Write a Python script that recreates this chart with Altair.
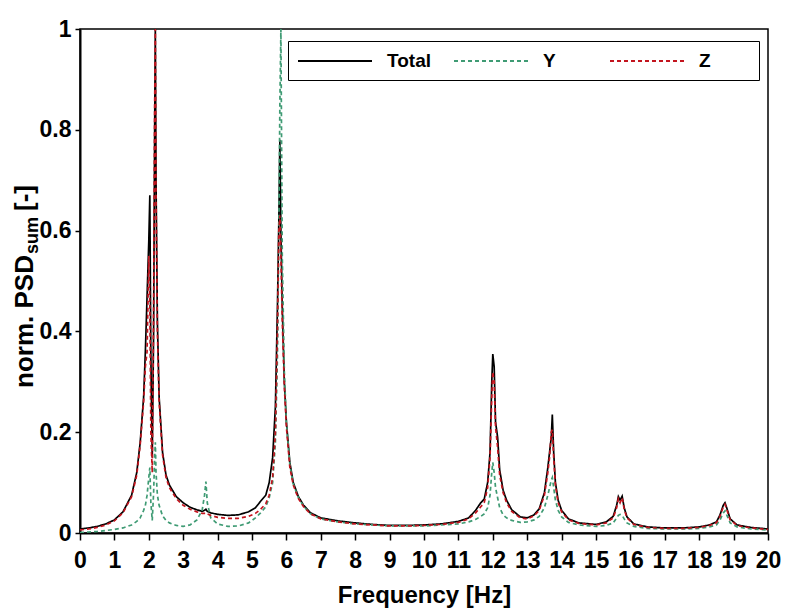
import altair as alt
import pandas as pd

# ---- data ----
freq = [0, 0.25, 0.5, 0.75, 1.0, 1.25, 1.5, 1.65, 1.75, 1.85, 1.9, 1.95, 2.0, 2.03, 2.06, 2.1,
        2.14, 2.17, 2.19, 2.21, 2.25, 2.3, 2.4, 2.5, 2.6, 2.8, 3.0, 3.2, 3.4, 3.55, 3.62, 3.66,
        3.7, 3.8, 4.0, 4.3, 4.6, 4.9, 5.1, 5.25, 5.4, 5.5, 5.6, 5.68, 5.74, 5.78, 5.81, 5.84,
        5.88, 5.94, 6.0, 6.1, 6.2, 6.35, 6.5, 6.7, 7.0, 7.5, 8.0, 8.5, 9.0, 9.5, 10.0, 10.5,
        11.0, 11.3, 11.5, 11.65, 11.75, 11.85, 11.92, 11.97, 12.0, 12.04, 12.08, 12.14, 12.2,
        12.3, 12.4, 12.55, 12.8, 13.0, 13.2, 13.35, 13.5, 13.6, 13.65, 13.7, 13.73, 13.77,
        13.82, 13.9, 14.0, 14.2, 14.5, 15.0, 15.3, 15.5, 15.6, 15.65, 15.7, 15.76, 15.82, 15.9,
        16.1, 16.5, 17.0, 17.5, 18.0, 18.3, 18.5, 18.6, 18.7, 18.75, 18.8, 18.9, 19.1, 19.5, 20.0]

total = [0.008, 0.01, 0.013, 0.018, 0.026, 0.042, 0.075, 0.12, 0.18, 0.27, 0.36, 0.47, 0.58, 0.67, 0.35, 0.15,
         0.4, 0.8, 1.0, 0.7, 0.42, 0.27, 0.16, 0.115, 0.095, 0.072, 0.06, 0.051, 0.046, 0.043, 0.045, 0.047,
         0.043, 0.04, 0.037, 0.035, 0.036, 0.042, 0.05, 0.063, 0.075, 0.1, 0.15, 0.25, 0.45, 0.62, 0.78, 0.6,
         0.45, 0.3, 0.22, 0.14, 0.1, 0.072, 0.055, 0.04, 0.03, 0.024, 0.02, 0.017, 0.015, 0.015, 0.016, 0.018,
         0.023, 0.03, 0.045, 0.06, 0.067, 0.1, 0.16, 0.3, 0.355, 0.33, 0.22, 0.19, 0.125,
         0.085, 0.065, 0.046, 0.032, 0.03, 0.036, 0.048, 0.08, 0.13, 0.16, 0.19, 0.235, 0.16,
         0.1, 0.065, 0.045, 0.028, 0.02, 0.017, 0.022, 0.033, 0.055, 0.072, 0.065, 0.073, 0.05, 0.032,
         0.018, 0.012, 0.01, 0.01, 0.012, 0.016, 0.022, 0.035, 0.055, 0.06, 0.05, 0.028, 0.016, 0.011, 0.008]

y_dir = [0.001, 0.002, 0.003, 0.005, 0.007, 0.01, 0.016, 0.023, 0.03, 0.045, 0.055, 0.075, 0.11, 0.13, 0.06, 0.025,
         0.08, 0.15, 0.18, 0.12, 0.075, 0.055, 0.034, 0.025, 0.02, 0.015, 0.013, 0.016, 0.026, 0.045, 0.075, 0.102,
         0.06, 0.03, 0.018, 0.013, 0.014, 0.02, 0.03, 0.04, 0.052, 0.07, 0.1, 0.18, 0.35, 0.6, 0.85, 1.0,
         0.55, 0.32, 0.22, 0.135, 0.097, 0.07, 0.053, 0.038, 0.028, 0.022, 0.018, 0.016, 0.014, 0.014, 0.014, 0.016,
         0.018, 0.022, 0.027, 0.033, 0.038, 0.05, 0.075, 0.12, 0.14, 0.12, 0.09, 0.07, 0.05,
         0.036, 0.03, 0.025, 0.021, 0.022, 0.026, 0.033, 0.05, 0.075, 0.09, 0.105, 0.11, 0.09,
         0.065, 0.045, 0.032, 0.021, 0.016, 0.013, 0.015, 0.02, 0.03, 0.035, 0.037, 0.035, 0.028, 0.02,
         0.013, 0.009, 0.008, 0.008, 0.009, 0.012, 0.016, 0.025, 0.04, 0.044, 0.036, 0.02, 0.012, 0.008, 0.006]

z_dir = [0.006, 0.008, 0.011, 0.016, 0.024, 0.04, 0.072, 0.115, 0.175, 0.26, 0.33, 0.36, 0.55, 0.45, 0.2, 0.12,
         0.45, 0.85, 1.0, 0.68, 0.4, 0.26, 0.155, 0.11, 0.09, 0.068, 0.055, 0.047, 0.042, 0.039, 0.039, 0.04,
         0.038, 0.035, 0.031, 0.029, 0.029, 0.033, 0.039, 0.047, 0.058, 0.075, 0.11, 0.2, 0.4, 0.6, 0.63, 0.55,
         0.42, 0.29, 0.21, 0.13, 0.095, 0.068, 0.052, 0.038, 0.028, 0.022, 0.018, 0.016, 0.014, 0.014, 0.015, 0.017,
         0.021, 0.028, 0.04, 0.052, 0.06, 0.09, 0.15, 0.27, 0.32, 0.3, 0.21, 0.17, 0.115,
         0.08, 0.06, 0.043, 0.03, 0.028, 0.034, 0.045, 0.075, 0.12, 0.15, 0.2, 0.205, 0.15,
         0.095, 0.06, 0.042, 0.026, 0.019, 0.016, 0.02, 0.03, 0.05, 0.068, 0.06, 0.07, 0.047, 0.03,
         0.017, 0.011, 0.009, 0.009, 0.011, 0.015, 0.02, 0.032, 0.052, 0.057, 0.047, 0.026, 0.015, 0.01, 0.007]

series_names = ["Total", "Y", "Z"]
series_colors = ["#000000", "#3f9b74", "#c3141e"]
series_dash = [[1, 0], [4, 3], [4, 3]]
x_ticks = list(range(0, 21))
y_ticks = [0, 0.2, 0.4, 0.6, 0.8, 1.0]

rows = []
for name, vals in zip(series_names, [total, y_dir, z_dir]):
    for f, v in zip(freq, vals):
        rows.append({"f": f, "v": v, "series": name})
df = pd.DataFrame(rows)

FONT = "Liberation Sans"

# long legend line drawn with a custom symbol path (size 400 -> unit r = 10 px)
legend_def = alt.Legend(
    orient="none", legendX=208, legendY=12, direction="horizontal",
    title="\u2009", titleOrient="right", titleFontSize=19, titlePadding=39,
    symbolType="M-1,0H6.4", symbolSize=400, symbolStrokeWidth=2,
    labelFontSize=19, labelFont=FONT, labelFontWeight="bold", labelColor="black",
    labelOffset=68, columnPadding=19, gridAlign="all", padding=9,
    strokeColor="black", fillColor="white", cornerRadius=0,
)

lines = alt.Chart(df).mark_line(strokeWidth=1.7, clip=True).encode(
    x=alt.X("f:Q", scale=alt.Scale(domain=[0, 20], nice=False),
            axis=alt.Axis(values=x_ticks, title="Frequency [Hz]", tickSize=7, labelOverlap=False,
                          labelFlush=False, labelPadding=9, titlePadding=11, titleFontSize=24,
                          grid=False)),
    y=alt.Y("v:Q", scale=alt.Scale(domain=[0, 1], nice=False),
            axis=alt.Axis(values=y_ticks, format="~g", title=None, tickSize=5,
                          labelPadding=4, grid=False)),
    color=alt.Color("series:N", scale=alt.Scale(domain=series_names, range=series_colors),
                    legend=legend_def),
    strokeDash=alt.StrokeDash("series:N", scale=alt.Scale(domain=series_names, range=series_dash),
                              legend=legend_def),
)

def title_piece(text, size, align, x, y):
    return alt.Chart(pd.DataFrame({"t": [text]})).mark_text(
        angle=270, align=align, baseline="alphabetic", fontSize=size,
        fontWeight="bold", font=FONT, color="black",
    ).encode(text="t:N", x=alt.value(x), y=alt.value(y))

t1 = title_piece("norm. PSD", 26, "right", -47, 226)
t2 = title_piece("sum", 18, "left", -42, 225)
t3 = title_piece("[-]", 26, "left", -47, 182)

chart = alt.layer(lines, t1, t2, t3).properties(
    width=688, height=504,
    autosize=alt.AutoSizeParams(type="none"),
    padding={"left": 72, "top": 21, "right": 16, "bottom": 75},
).configure_view(
    stroke="black", strokeWidth=1.5
).configure_axis(
    domainColor="black", domainWidth=2, tickColor="black", tickWidth=1.5,
    labelFont=FONT, labelFontSize=23, labelFontWeight="bold", labelColor="black",
    titleFont=FONT, titleFontWeight="bold", titleColor="black",
)

chart.save("out.html", embed_options={"renderer": "svg", "actions": False})
